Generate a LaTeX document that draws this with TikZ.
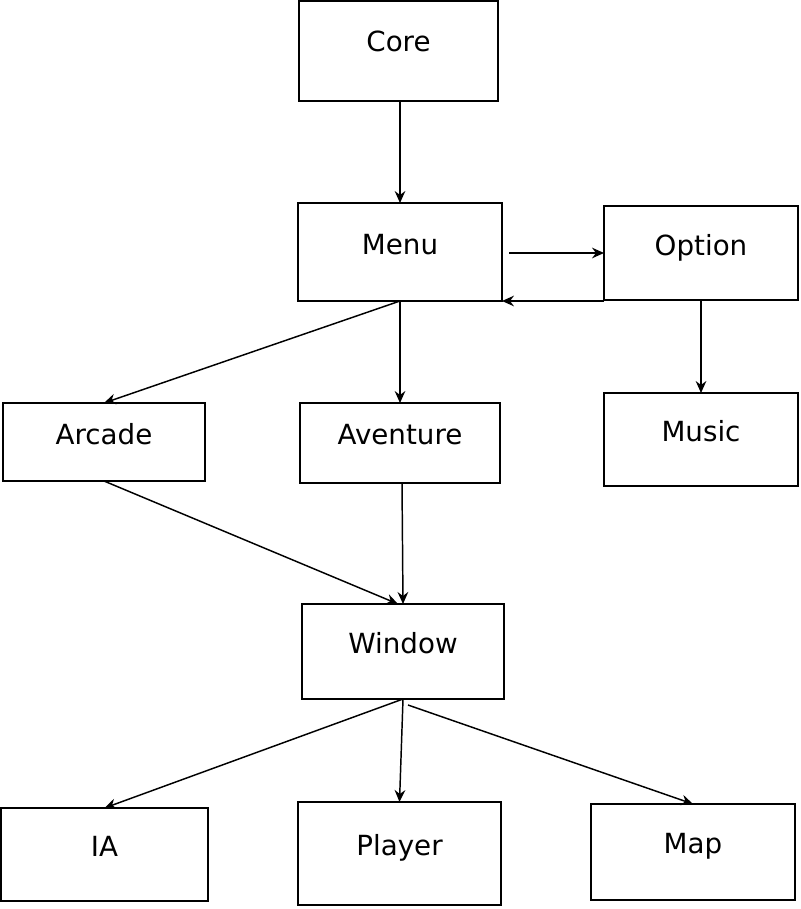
\documentclass[tikz,border=0pt]{standalone}
\usepackage{fontspec}
\setmainfont{DejaVu Sans}
\usepackage{tikz}
\usetikzlibrary{arrows.meta}
\def\pxu{0.75pt}

\begin{document}
\begin{tikzpicture}[x=\pxu,y=-\pxu,
	box/.style={draw,line width=1.4pt,anchor=north west,inner sep=0pt,outer sep=0pt},
	lbl/.style={anchor=base,font=\fontsize{20.8}{24}\selectfont,inner sep=0pt},
	link/.style={-{Stealth[length=9pt,width=8pt,inset=3pt]},line width=1.1pt}]
	\useasboundingbox (0,0) rectangle (800,909);
	
	% boxes
	\node[box,minimum width=199*\pxu,minimum height=100*\pxu,label={[lbl,yshift=-51*\pxu]north:Core}] (core) at (299,1) {};
	\node[box,minimum width=204*\pxu,minimum height=98*\pxu,label={[lbl,yshift=-51*\pxu]north:Menu}] (menu) at (298,203) {};
	\node[box,minimum width=194*\pxu,minimum height=94*\pxu,label={[lbl,yshift=-49*\pxu]north:Option}] (option) at (604,206) {};
	\node[box,minimum width=202*\pxu,minimum height=78*\pxu,label={[lbl,yshift=-41*\pxu]north:Arcade}] (arcade) at (3,403) {};
	\node[box,minimum width=200*\pxu,minimum height=80*\pxu,label={[lbl,yshift=-41*\pxu]north:Aventure}] (aventure) at (300,403) {};
	\node[box,minimum width=194*\pxu,minimum height=93*\pxu,label={[lbl,yshift=-48*\pxu]north:Music}] (music) at (604,393) {};
	\node[box,minimum width=202*\pxu,minimum height=95*\pxu,label={[lbl,yshift=-49*\pxu]north:Window}] (window) at (302,604) {};
	\node[box,minimum width=207*\pxu,minimum height=93*\pxu,label={[lbl,yshift=-48*\pxu]north:IA}] (ia) at (1,808) {};
	\node[box,minimum width=203*\pxu,minimum height=103*\pxu,label={[lbl,yshift=-53*\pxu]north:Player}] (player) at (298,802) {};
	\node[box,minimum width=204*\pxu,minimum height=96*\pxu,label={[lbl,yshift=-49*\pxu]north:Map}] (map) at (591,804) {};
	
	% links
	\coordinate (menuout) at ([xshift=7*\pxu]option.west -| menu.east);
	\coordinate (winout) at ([xshift=5*\pxu,yshift=-6*\pxu]window.south);
	\draw[link] (menu.north |- core.south) -- (menu.north);
	\draw[link] (menuout) -- (option.west);
	\draw[link] (menu.south east -| option.west) -- (menu.south east);
	\draw[link] (menu.south) -- (arcade.north);
	\draw[link] (menu.south) -- (aventure.north);
	\draw[link] (option.south) -- (music.north);
	\draw[link] (arcade.south) -- ([xshift=-5*\pxu]window.north);
	\draw[link] ([xshift=2*\pxu]aventure.south) -- (window.north);
	\draw[link] (window.south) -- (ia.north);
	\draw[link] (window.south) -- (player.north);
	\draw[link] (winout) -- (map.north);
\end{tikzpicture}
\end{document}
